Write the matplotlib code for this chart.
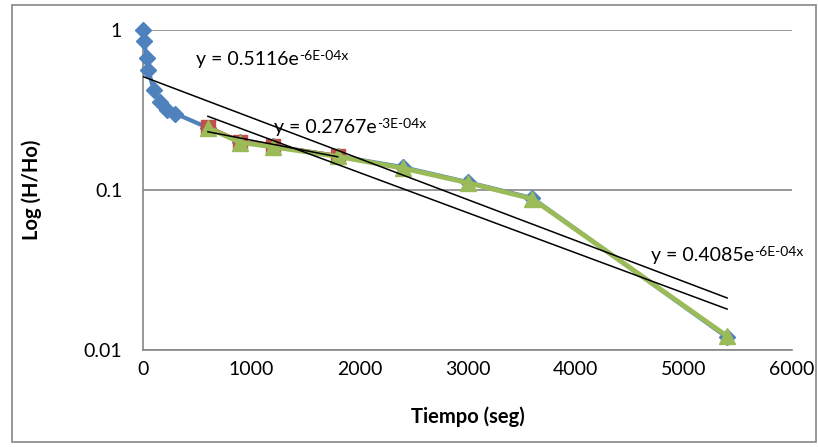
import matplotlib
matplotlib.use("Agg")
import matplotlib.pyplot as plt
from matplotlib.patches import Rectangle
import numpy as np

plt.rcParams['font.family'] = ['Lato', 'DejaVu Sans']

# data
t_all = [0, 10, 35, 50, 100, 160, 220, 300, 600, 900, 1200, 1800, 2400, 3000, 3600, 5400]
h_all = [1.0, 0.85, 0.67, 0.56, 0.42, 0.355, 0.316, 0.30, 0.245, 0.20, 0.188, 0.163, 0.139, 0.112, 0.089, 0.012]
t_mid = [600, 900, 1200, 1800]
h_mid = [0.248, 0.20, 0.188, 0.163]
t_late = [600, 900, 1200, 1800, 2400, 3000, 3600, 5400]
h_late = [0.245, 0.198, 0.186, 0.162, 0.137, 0.111, 0.088, 0.0122]

# exponential trendlines y = a*exp(-k*x)
trend_a = [0.5116, 0.2767, 0.4085]
trend_k = [5.9e-4, 3.0e-4, 5.78e-4]
trend_x0 = [0, 600, 600]
trend_x1 = [5400, 1800, 5400]
trend_main = ['y = 0.5116e', 'y = 0.2767e', 'y = 0.4085e']
trend_sup = ['-6E-04x', '-3E-04x', '-6E-04x']
label_pos = [(490, 0.65), (1215, 0.245), (4700, 0.039)]

blue, red, green = '#4F81BD', '#C0504D', '#9BBB59'

fig = plt.figure(figsize=(8.18, 4.47), dpi=100)
ax = fig.add_axes([143/818, 1-350/447, (792-143)/818, 320/447])

ax.plot(t_all, h_all, color=blue, lw=3, marker='D', ms=8.5, mec=blue, zorder=3, clip_on=False)
ax.plot(t_mid, h_mid, color=red, lw=3, marker='s', ms=10, mec=red, zorder=4, clip_on=False)
ax.plot(t_late, h_late, color=green, lw=3.5, marker='^', ms=11, mec=green, zorder=5, clip_on=False)

for a, k, x0, x1 in zip(trend_a, trend_k, trend_x0, trend_x1):
  xs = np.linspace(x0, x1, 50)
  ax.plot(xs, a*np.exp(-k*xs), color='black', lw=1.1, zorder=6)

for main, sup, (x, y) in zip(trend_main, trend_sup, label_pos):
  t = ax.text(x, y, main, fontsize=14, va='center', ha='left', zorder=7)
  ax.annotate(sup, xy=(1, 0.72), xycoords=t, fontsize=10, va='center', ha='left', zorder=7)

ax.set_yscale('log')
ax.set_ylim(0.01, 1)
ax.set_xlim(0, 6000)
ax.set_xticks(range(0, 7000, 1000))
ax.set_yticks([0.01, 0.1, 1])
ax.set_yticklabels(['0.01', '0.1', '1'])
ax.minorticks_off()
ax.tick_params(axis='both', length=0, labelsize=14)
ax.tick_params(axis='y', pad=15)
ax.tick_params(axis='x', pad=8)
ax.grid(True, axis='y', color='#868686', lw=1.2)
ax.set_axisbelow(True)
for s in ['top', 'right']:
  ax.spines[s].set_visible(False)
for s in ['left', 'bottom']:
  ax.spines[s].set_color('#868686')
  ax.spines[s].set_linewidth(1.2)

ax.set_xlabel('Tiempo (seg)', fontsize=14.5, fontweight='bold')
ax.set_ylabel('Log (H/Ho)', fontsize=14.5, fontweight='bold')
ax.xaxis.set_label_coords(0.5, -0.175)
ax.yaxis.set_label_coords(-0.155, 0.5)

fig.patches.append(Rectangle((12/818, 1-442/447), (816-12)/818, 437/447,
                             transform=fig.transFigure, fill=False, ec='#868686', lw=1.2))

fig.savefig('out.png', dpi=100)
